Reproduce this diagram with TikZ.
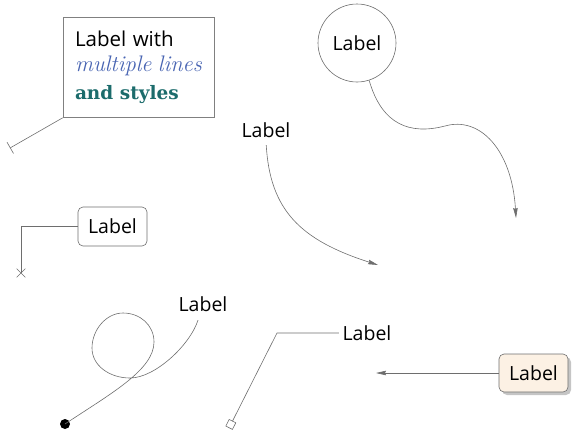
\documentclass[tikz,border=0pt]{standalone}
\usepackage{fontspec}
\usepackage{tikz}
\usetikzlibrary{arrows.meta,shapes.misc,shadows}
\newfontfamily\labelfont{Open Sans}
\newfontfamily\boldserif{DejaVu Serif}
\definecolor{linegray}{RGB}{110,110,110}
\definecolor{boxgray}{RGB}{128,128,128}
\definecolor{handblue}{RGB}{72,100,178}
\definecolor{darkteal}{RGB}{28,108,108}
\definecolor{cream}{RGB}{252,241,228}

\begin{document}
\begin{tikzpicture}[x=1pt, y=-1pt, line width=0.6pt,
    every node/.style={font=\labelfont\fontsize{19.5}{23}\selectfont},
    conn/.style={draw=linegray},
    tip/.style={-{Stealth[length=10pt,width=4.5pt,inset=1pt]}}]
    \useasboundingbox (0,0) rectangle (577,442);
    % nodes
    \node[draw=boxgray, minimum width=151pt, minimum height=100pt, text width=127pt, inner xsep=12pt, align=left] (multi) at (138.5,67.5)
        {{\fontsize{20.5}{24}\selectfont Label with}\\[2pt]
         {\normalfont\itshape\fontsize{22.5}{26}\selectfont\color{handblue} multiple lines}\\[5pt]
         {\boldserif\bfseries\fontsize{18.5}{22}\selectfont\color{darkteal} and styles}};
    \node[shape=circle, draw=linegray, minimum size=78pt, inner sep=0pt] (circ) at (357,43) {Label};
    \node (plain) at (266,130) {Label};
    \node[draw=linegray, rounded corners=5pt, minimum width=69pt, minimum height=39pt, inner sep=0pt] (round) at (112.5,226.5) {Label};
    \node[cross out, draw=linegray, minimum size=8pt, inner sep=0pt] (xmark) at (21,273) {};
    \node (loop) at (203,304) {Label};
    \node[shape=circle, fill=black, minimum size=10pt, inner sep=0pt] (dot) at (65,424) {};
    \node (bent) at (367,333) {Label};
    \node[draw=linegray, fill=cream, rounded corners=5pt, minimum width=69pt, minimum height=38pt, inner sep=0pt,
          drop shadow={shadow xshift=3pt, shadow yshift=-3pt, fill=black!45}] (shade) at (533.5,373) {Label};
    \coordinate (tick) at (10,148);
    \coordinate (down) at (516,218);
    \coordinate (right) at (378,265);
    \coordinate (knee) at (277,333);
    \coordinate (square) at (229,428);
    \coordinate (left) at (376,373);
    % connectors
    \draw[conn, -{Bar[width=13pt]}] (multi.south west) -- (tick);
    \draw[conn, tip] (circ.-72) .. controls (382,125) and (410,135) .. (445,126)
        .. controls (480,116) and (512,150) .. (down);
    \draw[conn, tip, shorten <=4pt] (plain.south) .. controls (270,210) and (300,240) .. (right);
    \draw[conn] (round.west) -| (xmark.center);
    \draw[conn] (dot.center) .. controls (110,394) and (154,370) .. (154,342)
        .. controls (154,325) and (140,313) .. (123,313)
        .. controls (106,313) and (92,330) .. (92,348)
        .. controls (92,366) and (110,378) .. (130,378)
        .. controls (155,378) and (190,345) .. ([shift={(-5pt,-5pt)}]loop.south);
    \draw[conn, -{Square[open,length=8pt,width=8pt]}] (bent.west) -- (knee) -- (square);
    \draw[conn, tip] (shade.west) -- (left);
\end{tikzpicture}
\end{document}
